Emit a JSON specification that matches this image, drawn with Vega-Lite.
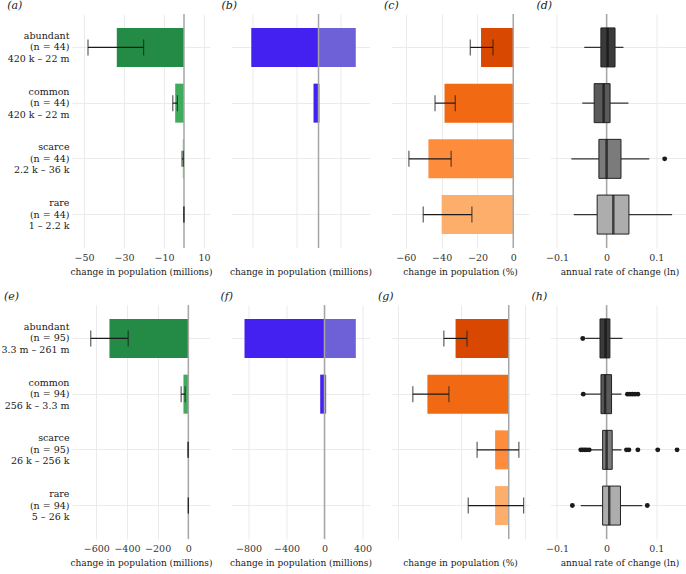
{
  "$schema": "https://vega.github.io/schema/vega-lite/v6.json",
  "background": "white",
  "padding": {"left": 0, "top": 0, "right": 0, "bottom": 0},
  "columns": 4,
  "spacing": {"row": 57, "column": 21.5},
  "bounds": "flush",
  "resolve": {"scale": {"color": "independent"}},
  "config": {
    "font": "DejaVu Serif",
    "view": {"stroke": null},
    "axis": {"domain": false, "ticks": false, "grid": true, "gridColor": "#ebebeb", "gridWidth": 1,
      "labelFont": "DejaVu Serif", "labelFontSize": 9.5, "labelColor": "#333333",
      "titleFont": "DejaVu Serif", "titleFontSize": 9, "titleFontWeight": "normal", "titleColor": "#1a1a1a",
      "labelPadding": 4, "titlePadding": 6},
    "title": {"font": "DejaVu Serif", "fontSize": 11, "fontStyle": "italic", "fontWeight": "normal", "anchor": "start", "offset": 2, "color": "#1a1a1a"}
  },
  "concat": [
    {
      "title": {"text": "(a)", "frame": "bounds"},
      "width": 138, "height": 234,
      "data": {"values": [
        {"cat": "abundant", "value": -33.6, "lo": -48.0, "hi": -20.2},
        {"cat": "common", "value": -4.4, "lo": -5.6, "hi": -3.3},
        {"cat": "scarce", "value": -0.6, "lo": -1.0, "hi": -0.3},
        {"cat": "rare", "value": -0.05, "lo": -0.1, "hi": 0.0}
      ]},
      "layer": [
        {"mark": {"type": "bar"},
         "encoding": {
           "y": {"field": "cat", "type": "nominal", "scale": {"domain": ["abundant", "common", "scarce", "rare"], "paddingInner": 0.3, "paddingOuter": 0.25},
                 "axis": {"title": null, "grid": true, "bandPosition": 0.5, "labelAlign": "right", "labelBaseline": "middle", "labelLineHeight": 11.5, "labelOffset": -11.5, "labelColor": "#1a1a1a", "labelPadding": 3,
                          "labelExpr": "datum.value == 'abundant' ? ['abundant', '(n = 44)', '420 k – 22 m'] : datum.value == 'common' ? ['common', '(n = 44)', '420 k – 22 m'] : datum.value == 'scarce' ? ['scarce', '(n = 44)', '2.2 k – 36 k'] : ['rare', '(n = 44)', '1 – 2.2 k']"}},
           "x": {"field": "value", "type": "quantitative", "scale": {"domain": [-56, 13], "nice": false},
                 "axis": {"values": [-50, -40, -30, -20, -10, 0, 10], "title": "change in population (millions)"}},
           "color": {"field": "cat", "type": "nominal", "legend": null, "scale": {"domain": ["abundant", "common", "scarce", "rare"], "range": ["#238b45", "#41ab5d", "#74c476", "#a1d99b"]}}
         }},
        {"data": {"values": [{}]}, "mark": {"type": "rule", "color": "#a6a6a6", "strokeWidth": 1.5}, "encoding": {"x": {"datum": 0}}},
        {"mark": {"type": "rule", "color": "#1a1a1a", "strokeWidth": 1.2},
         "encoding": {"y": {"field": "cat", "type": "nominal"}, "x": {"field": "lo", "type": "quantitative"}, "x2": {"field": "hi"}}},
        {"mark": {"type": "tick", "color": "#1a1a1a", "size": 16, "thickness": 1.2},
         "encoding": {"y": {"field": "cat", "type": "nominal"}, "x": {"field": "lo", "type": "quantitative"}}},
        {"mark": {"type": "tick", "color": "#1a1a1a", "size": 16, "thickness": 1.2},
         "encoding": {"y": {"field": "cat", "type": "nominal"}, "x": {"field": "hi", "type": "quantitative"}}}
      ]
    },
    {
      "title": {"text": "(b)", "frame": "group", "dx": -10},
      "width": 138, "height": 234,
      "data": {"values": [
        {"cat": "abundant", "loss": -76.5, "gain": 42.4},
        {"cat": "common", "loss": -5.7, "gain": 1.1},
        {"cat": "scarce", "loss": -0.6, "gain": 0.1},
        {"cat": "rare", "loss": -0.03, "gain": 0.01}
      ]},
      "layer": [
        {"mark": {"type": "bar", "color": "#4421f0"},
         "encoding": {
           "y": {"field": "cat", "type": "nominal", "scale": {"domain": ["abundant", "common", "scarce", "rare"], "paddingInner": 0.3, "paddingOuter": 0.25},
                 "axis": {"title": null, "grid": true, "bandPosition": 0.5, "labels": false}},
           "x": {"field": "loss", "type": "quantitative", "scale": {"domain": [-99, 58], "nice": false},
                 "axis": {"values": [-75, -50, -25, 0, 25, 50], "labelExpr": "datum.value % 50 == 0 ? datum.label : ''", "title": "change in population (millions)"}}
         }},
        {"mark": {"type": "bar", "color": "#6e60d6"},
         "encoding": {"y": {"field": "cat", "type": "nominal"}, "x": {"field": "gain", "type": "quantitative"}}},
        {"data": {"values": [{}]}, "mark": {"type": "rule", "color": "#a6a6a6", "strokeWidth": 1.5}, "encoding": {"x": {"datum": 0}}}
      ]
    },
    {
      "title": {"text": "(c)", "frame": "group", "dx": -7},
      "width": 138, "height": 234,
      "data": {"values": [
        {"cat": "abundant", "value": -18.0, "lo": -24.0, "hi": -11.3},
        {"cat": "common", "value": -38.4, "lo": -43.7, "hi": -32.4},
        {"cat": "scarce", "value": -47.4, "lo": -58.3, "hi": -34.7},
        {"cat": "rare", "value": -40.0, "lo": -50.3, "hi": -23.1}
      ]},
      "layer": [
        {"mark": {"type": "bar"},
         "encoding": {
           "y": {"field": "cat", "type": "nominal", "scale": {"domain": ["abundant", "common", "scarce", "rare"], "paddingInner": 0.3, "paddingOuter": 0.25},
                 "axis": {"title": null, "grid": true, "bandPosition": 0.5, "labels": false}},
           "x": {"field": "value", "type": "quantitative", "scale": {"domain": [-68.3, 8.8], "nice": false},
                 "axis": {"values": [-60, -50, -40, -30, -20, -10, 0], "labelExpr": "datum.value % 20 == 0 ? datum.label : ''", "title": "change in population (%)"}},
           "color": {"field": "cat", "type": "nominal", "legend": null, "scale": {"domain": ["abundant", "common", "scarce", "rare"], "range": ["#d94801", "#f16913", "#fd8d3c", "#fdae6b"]}}
         }},
        {"data": {"values": [{}]}, "mark": {"type": "rule", "color": "#a6a6a6", "strokeWidth": 1.5}, "encoding": {"x": {"datum": 0}}},
        {"mark": {"type": "rule", "color": "#1a1a1a", "strokeWidth": 1.2},
         "encoding": {"y": {"field": "cat", "type": "nominal"}, "x": {"field": "lo", "type": "quantitative"}, "x2": {"field": "hi"}}},
        {"mark": {"type": "tick", "color": "#1a1a1a", "size": 16, "thickness": 1.2},
         "encoding": {"y": {"field": "cat", "type": "nominal"}, "x": {"field": "lo", "type": "quantitative"}}},
        {"mark": {"type": "tick", "color": "#1a1a1a", "size": 16, "thickness": 1.2},
         "encoding": {"y": {"field": "cat", "type": "nominal"}, "x": {"field": "hi", "type": "quantitative"}}}
      ]
    },
    {
      "title": {"text": "(d)", "frame": "group", "dx": -14},
      "width": 138, "height": 234,
      "data": {"values": [
        {"cat": "abundant", "lo": -0.045, "q1": -0.0115, "med": 0.002, "q3": 0.017, "hi": 0.034},
        {"cat": "common", "lo": -0.049, "q1": -0.025, "med": -0.006, "q3": 0.007, "hi": 0.044},
        {"cat": "scarce", "lo": -0.071, "q1": -0.0155, "med": 0.0, "q3": 0.029, "hi": 0.086},
        {"cat": "rare", "lo": -0.066, "q1": -0.019, "med": 0.0135, "q3": 0.045, "hi": 0.132}
      ]},
      "layer": [
        {"data": {"values": [{}]}, "mark": {"type": "rule", "color": "#a6a6a6", "strokeWidth": 1.5},
         "encoding": {"x": {"datum": 0, "type": "quantitative", "scale": {"domain": [-0.113, 0.165], "nice": false},
           "axis": {"values": [-0.1, -0.05, 0, 0.05, 0.1, 0.15], "format": "~r", "labelExpr": "datum.value == -0.1 || datum.value == 0 || datum.value == 0.1 ? datum.label : ''", "title": "annual rate of change (ln)"}}}},
        {"mark": {"type": "rule", "color": "#333333", "strokeWidth": 1.3},
         "encoding": {
           "y": {"field": "cat", "type": "nominal", "scale": {"domain": ["abundant", "common", "scarce", "rare"], "paddingInner": 0.3, "paddingOuter": 0.25},
                 "axis": {"title": null, "grid": true, "bandPosition": 0.5, "labels": false}},
           "x": {"field": "lo", "type": "quantitative"}, "x2": {"field": "hi"}}},
        {"mark": {"type": "bar", "stroke": "#222222", "strokeWidth": 1},
         "encoding": {"y": {"field": "cat", "type": "nominal"}, "x": {"field": "q1", "type": "quantitative"}, "x2": {"field": "q3"},
           "color": {"field": "cat", "type": "nominal", "legend": null, "scale": {"domain": ["abundant", "common", "scarce", "rare"], "range": ["#3a3a3a", "#5a5a5a", "#7b7b7b", "#adadad"]}}}},
        {"mark": {"type": "tick", "color": "#111111", "size": 39, "thickness": 2.5},
         "encoding": {"y": {"field": "cat", "type": "nominal"}, "x": {"field": "med", "type": "quantitative"}}},
        {"data": {"values": [{"cat": "scarce", "x": 0.117}]},
         "mark": {"type": "point", "filled": true, "color": "#1a1a1a", "size": 24, "opacity": 1},
         "encoding": {"y": {"field": "cat", "type": "nominal"}, "x": {"field": "x", "type": "quantitative"}}}
      ]
    },
    {
      "title": {"text": "(e)", "frame": "bounds", "dx": 3},
      "width": 138, "height": 234,
      "data": {"values": [
        {"cat": "abundant", "value": -514, "lo": -636, "hi": -392},
        {"cat": "common", "value": -32, "lo": -47, "hi": -21},
        {"cat": "scarce", "value": -1.5, "lo": -3, "hi": -0.5},
        {"cat": "rare", "value": -0.1, "lo": -0.2, "hi": 0.0}
      ]},
      "layer": [
        {"mark": {"type": "bar"},
         "encoding": {
           "y": {"field": "cat", "type": "nominal", "scale": {"domain": ["abundant", "common", "scarce", "rare"], "paddingInner": 0.3, "paddingOuter": 0.25},
                 "axis": {"title": null, "grid": true, "bandPosition": 0.5, "labelAlign": "right", "labelBaseline": "middle", "labelLineHeight": 11.5, "labelOffset": -11.5, "labelColor": "#1a1a1a", "labelPadding": 3,
                          "labelExpr": "datum.value == 'abundant' ? ['abundant', '(n = 95)', '3.3 m – 261 m'] : datum.value == 'common' ? ['common', '(n = 94)', '256 k – 3.3 m'] : datum.value == 'scarce' ? ['scarce', '(n = 95)', '26 k – 256 k'] : ['rare', '(n = 94)', '5 – 26 k']"}},
           "x": {"field": "value", "type": "quantitative", "scale": {"domain": [-758, 141], "nice": false},
                 "axis": {"values": [-600, -400, -200, 0], "title": "change in population (millions)"}},
           "color": {"field": "cat", "type": "nominal", "legend": null, "scale": {"domain": ["abundant", "common", "scarce", "rare"], "range": ["#238b45", "#41ab5d", "#74c476", "#a1d99b"]}}
         }},
        {"data": {"values": [{}]}, "mark": {"type": "rule", "color": "#a6a6a6", "strokeWidth": 1.5}, "encoding": {"x": {"datum": 0}}},
        {"mark": {"type": "rule", "color": "#1a1a1a", "strokeWidth": 1.2},
         "encoding": {"y": {"field": "cat", "type": "nominal"}, "x": {"field": "lo", "type": "quantitative"}, "x2": {"field": "hi"}}},
        {"mark": {"type": "tick", "color": "#1a1a1a", "size": 16, "thickness": 1.2},
         "encoding": {"y": {"field": "cat", "type": "nominal"}, "x": {"field": "lo", "type": "quantitative"}}},
        {"mark": {"type": "tick", "color": "#1a1a1a", "size": 16, "thickness": 1.2},
         "encoding": {"y": {"field": "cat", "type": "nominal"}, "x": {"field": "hi", "type": "quantitative"}}}
      ]
    },
    {
      "title": {"text": "(f)", "frame": "group", "dx": -11},
      "width": 138, "height": 234,
      "data": {"values": [
        {"cat": "abundant", "loss": -842, "gain": 330},
        {"cat": "common", "loss": -45, "gain": 18},
        {"cat": "scarce", "loss": -3, "gain": 2},
        {"cat": "rare", "loss": -0.3, "gain": 0.1}
      ]},
      "layer": [
        {"mark": {"type": "bar", "color": "#4421f0"},
         "encoding": {
           "y": {"field": "cat", "type": "nominal", "scale": {"domain": ["abundant", "common", "scarce", "rare"], "paddingInner": 0.3, "paddingOuter": 0.25},
                 "axis": {"title": null, "grid": true, "bandPosition": 0.5, "labels": false}},
           "x": {"field": "loss", "type": "quantitative", "scale": {"domain": [-979, 474], "nice": false},
                 "axis": {"values": [-800, -600, -400, -200, 0, 200, 400], "labelExpr": "datum.value % 400 == 0 ? datum.label : ''", "title": "change in population (millions)"}}
         }},
        {"mark": {"type": "bar", "color": "#6e60d6"},
         "encoding": {"y": {"field": "cat", "type": "nominal"}, "x": {"field": "gain", "type": "quantitative"}}},
        {"data": {"values": [{}]}, "mark": {"type": "rule", "color": "#a6a6a6", "strokeWidth": 1.5}, "encoding": {"x": {"datum": 0}}}
      ]
    },
    {
      "title": {"text": "(g)", "frame": "group", "dx": -13},
      "width": 138, "height": 234,
      "data": {"values": [
        {"cat": "abundant", "value": -16.8, "lo": -20.5, "hi": -13.2},
        {"cat": "common", "value": -25.7, "lo": -30.3, "hi": -18.9},
        {"cat": "scarce", "value": -4.3, "lo": -10.0, "hi": 3.2},
        {"cat": "rare", "value": -4.3, "lo": -12.8, "hi": 4.7}
      ]},
      "layer": [
        {"mark": {"type": "bar"},
         "encoding": {
           "y": {"field": "cat", "type": "nominal", "scale": {"domain": ["abundant", "common", "scarce", "rare"], "paddingInner": 0.3, "paddingOuter": 0.25},
                 "axis": {"title": null, "grid": true, "bandPosition": 0.5, "labels": false}},
           "x": {"field": "value", "type": "quantitative", "scale": {"domain": [-37.2, 6.4], "nice": false},
                 "axis": {"values": [-35, -30, -25, -20, -15, -10, -5, 0, 5], "labelExpr": "datum.value % 10 == 0 ? datum.label : ''", "title": "change in population (%)"}},
           "color": {"field": "cat", "type": "nominal", "legend": null, "scale": {"domain": ["abundant", "common", "scarce", "rare"], "range": ["#d94801", "#f16913", "#fd8d3c", "#fdae6b"]}}
         }},
        {"data": {"values": [{}]}, "mark": {"type": "rule", "color": "#a6a6a6", "strokeWidth": 1.5}, "encoding": {"x": {"datum": 0}}},
        {"mark": {"type": "rule", "color": "#1a1a1a", "strokeWidth": 1.2},
         "encoding": {"y": {"field": "cat", "type": "nominal"}, "x": {"field": "lo", "type": "quantitative"}, "x2": {"field": "hi"}}},
        {"mark": {"type": "tick", "color": "#1a1a1a", "size": 16, "thickness": 1.2},
         "encoding": {"y": {"field": "cat", "type": "nominal"}, "x": {"field": "lo", "type": "quantitative"}}},
        {"mark": {"type": "tick", "color": "#1a1a1a", "size": 16, "thickness": 1.2},
         "encoding": {"y": {"field": "cat", "type": "nominal"}, "x": {"field": "hi", "type": "quantitative"}}}
      ]
    },
    {
      "title": {"text": "(h)", "frame": "group", "dx": -19},
      "width": 138, "height": 234,
      "data": {"values": [
        {"cat": "abundant", "lo": -0.043, "q1": -0.0133, "med": -0.002, "q3": 0.0067, "hi": 0.032},
        {"cat": "common", "lo": -0.044, "q1": -0.0113, "med": -0.003, "q3": 0.010, "hi": 0.030},
        {"cat": "scarce", "lo": -0.033, "q1": -0.008, "med": 0.0, "q3": 0.0113, "hi": 0.030},
        {"cat": "rare", "lo": -0.052, "q1": -0.008, "med": 0.0053, "q3": 0.028, "hi": 0.072}
      ]},
      "layer": [
        {"data": {"values": [{}]}, "mark": {"type": "rule", "color": "#a6a6a6", "strokeWidth": 1.5},
         "encoding": {"x": {"datum": 0, "type": "quantitative", "scale": {"domain": [-0.113, 0.165], "nice": false},
           "axis": {"values": [-0.1, -0.05, 0, 0.05, 0.1, 0.15], "format": "~r", "labelExpr": "datum.value == -0.1 || datum.value == 0 || datum.value == 0.1 ? datum.label : ''", "title": "annual rate of change (ln)"}}}},
        {"mark": {"type": "rule", "color": "#333333", "strokeWidth": 1.3},
         "encoding": {
           "y": {"field": "cat", "type": "nominal", "scale": {"domain": ["abundant", "common", "scarce", "rare"], "paddingInner": 0.3, "paddingOuter": 0.25},
                 "axis": {"title": null, "grid": true, "bandPosition": 0.5, "labels": false}},
           "x": {"field": "lo", "type": "quantitative"}, "x2": {"field": "hi"}}},
        {"mark": {"type": "bar", "stroke": "#222222", "strokeWidth": 1},
         "encoding": {"y": {"field": "cat", "type": "nominal"}, "x": {"field": "q1", "type": "quantitative"}, "x2": {"field": "q3"},
           "color": {"field": "cat", "type": "nominal", "legend": null, "scale": {"domain": ["abundant", "common", "scarce", "rare"], "range": ["#3a3a3a", "#5a5a5a", "#7b7b7b", "#adadad"]}}}},
        {"mark": {"type": "tick", "color": "#111111", "size": 39, "thickness": 2.5},
         "encoding": {"y": {"field": "cat", "type": "nominal"}, "x": {"field": "med", "type": "quantitative"}}},
        {"data": {"values": [
           {"cat": "abundant", "x": -0.048},
           {"cat": "common", "x": -0.047}, {"cat": "common", "x": 0.042}, {"cat": "common", "x": 0.047}, {"cat": "common", "x": 0.052}, {"cat": "common", "x": 0.057}, {"cat": "common", "x": 0.063},
           {"cat": "scarce", "x": -0.052}, {"cat": "scarce", "x": -0.048}, {"cat": "scarce", "x": -0.044}, {"cat": "scarce", "x": -0.040}, {"cat": "scarce", "x": -0.035},
           {"cat": "scarce", "x": 0.040}, {"cat": "scarce", "x": 0.045}, {"cat": "scarce", "x": 0.063}, {"cat": "scarce", "x": 0.103}, {"cat": "scarce", "x": 0.142},
           {"cat": "rare", "x": -0.069}, {"cat": "rare", "x": 0.082}
         ]},
         "mark": {"type": "point", "filled": true, "color": "#1a1a1a", "size": 24, "opacity": 1},
         "encoding": {"y": {"field": "cat", "type": "nominal"}, "x": {"field": "x", "type": "quantitative"}}}
      ]
    }
  ]
}
